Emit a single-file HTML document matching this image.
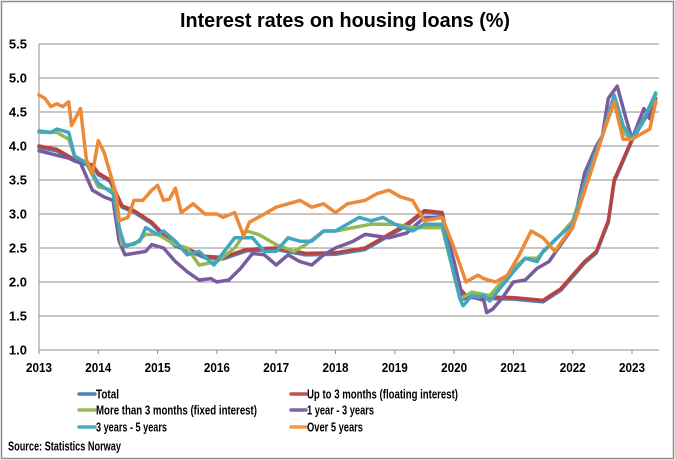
<!DOCTYPE html>
<html><head><meta charset="utf-8"><style>
html,body{margin:0;padding:0;background:#fff}
svg{display:block;font-family:"Liberation Sans",sans-serif;font-weight:bold}
</style></head><body>
<svg id="c" width="675" height="460" xmlns="http://www.w3.org/2000/svg">
<rect x="1.5" y="1.5" width="672" height="457" fill="#fff" stroke="#8c8c8c" stroke-width="1.5"/>
<text x="345" y="27" text-anchor="middle" font-size="20" textLength="330" lengthAdjust="spacingAndGlyphs">Interest rates on housing loans (%)</text>
<g id="grid" stroke="#8c8c8c" stroke-width="1"></g>
<g id="lab" font-size="13" fill="#000"></g>
<g id="ser" fill="none" stroke-width="3.5" stroke-linejoin="round" stroke-linecap="round"></g>
<g font-size="13">
<line x1="79" y1="394" x2="95" y2="394" stroke="#4f81bd" stroke-width="3.5" stroke-linecap="round"/>
<text x="96" y="398.5" textLength="23" lengthAdjust="spacingAndGlyphs">Total</text>
<line x1="291" y1="394" x2="306" y2="394" stroke="#c0504d" stroke-width="3.5" stroke-linecap="round"/>
<text x="307" y="398.5" textLength="151" lengthAdjust="spacingAndGlyphs">Up to 3 months (floating interest)</text>
<line x1="79" y1="410" x2="95" y2="410" stroke="#9bbb59" stroke-width="3.5" stroke-linecap="round"/>
<text x="96" y="414.5" textLength="161" lengthAdjust="spacingAndGlyphs">More than 3 months (fixed interest)</text>
<line x1="291" y1="410" x2="306" y2="410" stroke="#8064a2" stroke-width="3.5" stroke-linecap="round"/>
<text x="307" y="414.5" textLength="67" lengthAdjust="spacingAndGlyphs">1 year - 3 years</text>
<line x1="79" y1="427" x2="95" y2="427" stroke="#4bacc6" stroke-width="3.5" stroke-linecap="round"/>
<text x="96" y="431.5" textLength="71" lengthAdjust="spacingAndGlyphs">3 years - 5 years</text>
<line x1="291" y1="427" x2="306" y2="427" stroke="#f79646" stroke-width="3.5" stroke-linecap="round"/>
<text x="307" y="431.5" textLength="56" lengthAdjust="spacingAndGlyphs">Over 5 years</text>
<text x="8" y="450.5" textLength="113" lengthAdjust="spacingAndGlyphs">Source: Statistics Norway</text>
</g>
</svg>
<script>
const NS="http://www.w3.org/2000/svg";
const X0=39,PX=59.3,L=39,R=659;
const X=t=>X0+(t-2013)*PX, Y=v=>44+(5.5-v)*68;
const g=document.getElementById('grid'),lab=document.getElementById('lab'),ser=document.getElementById('ser');
function el(p,tag,a,txt){const e=document.createElementNS(NS,tag);for(const k in a)e.setAttribute(k,a[k]);if(txt)e.textContent=txt;p.appendChild(e);return e;}
for(let i=0;i<=9;i++){const v=1+i*0.5,y=Y(v);
 el(g,'line',{x1:L,x2:R,y1:y,y2:y});
 el(lab,'text',{x:27,y:y+4.5,'text-anchor':'end'},v.toFixed(1));}
el(g,'line',{x1:L,x2:L,y1:44,y2:354});
for(let yr=2013;yr<=2023;yr++){const x=X(yr);el(g,'line',{x1:x,x2:x,y1:350,y2:354});
 el(lab,'text',{x:x,y:372,'text-anchor':'middle',textLength:26,lengthAdjust:'spacingAndGlyphs'},String(yr));}
const red=[2013,4,2013.3,3.95,2013.6,3.8,2013.9,3.72,2014,3.6,2014.2,3.5,2014.4,3.12,2014.6,3.05,2014.9,2.88,2015.1,2.7,2015.3,2.55,2015.6,2.45,2015.8,2.38,2016.1,2.36,2016.5,2.48,2017,2.5,2017.5,2.42,2018,2.43,2018.5,2.5,2018.9,2.7,2019.2,2.85,2019.5,3.05,2019.8,3.02,2019.9,2.6,2020.1,1.9,2020.2,1.8,2020.5,1.78,2021,1.77,2021.5,1.73,2021.8,1.9,2022,2.1,2022.2,2.3,2022.4,2.45,2022.6,2.9,2022.7,3.5,2022.9,3.9,2023,4.1,2023.2,4.4,2023.4,4.65];
const purple=[2013,3.93,2013.5,3.82,2013.7,3.75,2013.9,3.35,2014.1,3.25,2014.25,3.2,2014.35,2.6,2014.45,2.4,2014.8,2.45,2014.9,2.55,2015.1,2.5,2015.3,2.3,2015.5,2.15,2015.7,2.03,2015.9,2.05,2016,2,2016.2,2.03,2016.4,2.2,2016.6,2.42,2016.8,2.4,2017,2.25,2017.2,2.4,2017.4,2.3,2017.6,2.25,2017.8,2.4,2018,2.5,2018.3,2.6,2018.5,2.7,2018.9,2.65,2019.2,2.72,2019.5,2.95,2019.8,2.95,2020,2.3,2020.15,1.75,2020.3,1.78,2020.5,1.73,2020.55,1.55,2020.65,1.6,2020.8,1.75,2021,2,2021.2,2.03,2021.4,2.2,2021.6,2.3,2021.8,2.55,2022,2.8,2022.2,3.6,2022.4,4,2022.5,4.15,2022.6,4.7,2022.75,4.88,2022.9,4.4,2023,4.1,2023.2,4.55,2023.3,4.4,2023.4,4.7];
const green=[2013,4.2,2013.3,4.2,2013.5,4.1,2013.6,3.85,2013.8,3.75,2014,3.4,2014.25,3.35,2014.4,2.55,2014.6,2.55,2014.8,2.7,2015,2.7,2015.3,2.55,2015.5,2.5,2015.7,2.25,2016,2.3,2016.3,2.5,2016.5,2.75,2016.7,2.7,2017,2.55,2017.3,2.45,2017.5,2.55,2017.8,2.75,2018,2.75,2018.3,2.8,2018.6,2.85,2019,2.85,2019.3,2.8,2019.5,2.8,2019.8,2.8,2020.1,1.75,2020.3,1.85,2020.6,1.8,2021,2.2,2021.2,2.35,2021.4,2.35,2021.8,2.7,2022,2.9,2022.3,3.7,2022.5,4.15,2022.7,4.75,2022.85,4.2,2023,4.1,2023.2,4.4,2023.4,4.75];
const teal=[2013,4.22,2013.2,4.2,2013.3,4.25,2013.5,4.2,2013.6,3.85,2013.8,3.75,2014,3.45,2014.25,3.3,2014.35,2.8,2014.45,2.52,2014.7,2.6,2014.8,2.8,2015,2.7,2015.1,2.75,2015.3,2.6,2015.5,2.4,2015.7,2.45,2015.95,2.25,2016.3,2.65,2016.6,2.65,2016.8,2.45,2017,2.45,2017.2,2.65,2017.4,2.6,2017.6,2.6,2017.8,2.75,2018,2.75,2018.4,2.95,2018.6,2.9,2018.8,2.95,2019,2.85,2019.3,2.75,2019.5,2.85,2019.8,2.85,2020.1,1.75,2020.15,1.65,2020.3,1.8,2020.4,1.78,2020.5,1.8,2020.6,1.72,2021,2.15,2021.2,2.35,2021.4,2.3,2021.5,2.45,2021.8,2.7,2022,2.85,2022.3,3.7,2022.5,4.15,2022.7,4.75,2022.85,4.3,2023,4.1,2023.2,4.4,2023.4,4.78];
const orange=[2013,4.75,2013.1,4.7,2013.2,4.58,2013.3,4.62,2013.4,4.58,2013.5,4.65,2013.55,4.3,2013.7,4.55,2013.8,3.8,2013.9,3.6,2014,4.08,2014.1,3.9,2014.3,3.3,2014.35,2.9,2014.5,2.95,2014.6,3.2,2014.75,3.2,2014.9,3.35,2015,3.42,2015.1,3.2,2015.2,3.22,2015.3,3.38,2015.4,3.02,2015.6,3.15,2015.8,3,2016,3,2016.1,2.95,2016.3,3.02,2016.45,2.68,2016.55,2.88,2016.8,3,2017,3.1,2017.2,3.15,2017.4,3.2,2017.6,3.1,2017.8,3.15,2018,3.02,2018.2,3.15,2018.5,3.2,2018.7,3.3,2018.9,3.35,2019.1,3.25,2019.3,3.2,2019.5,2.9,2019.8,2.95,2020,2.5,2020.2,2,2020.4,2.1,2020.5,2.05,2020.7,2,2020.9,2.1,2021.1,2.4,2021.3,2.75,2021.5,2.65,2021.7,2.45,2021.9,2.7,2022,2.8,2022.3,3.6,2022.5,4.15,2022.7,4.65,2022.85,4.1,2023,4.1,2023.2,4.2,2023.3,4.25,2023.4,4.65];
function pl(d,c,dy){let p=[];for(let i=0;i<d.length;i+=2)p.push(X(d[i]).toFixed(1)+','+(Y(d[i+1])+(dy||0)).toFixed(1));el(ser,'polyline',{points:p.join(' '),stroke:c});}
pl(red,'#4f81bd',1.5);pl(red,'#b8443f');pl(purple,'#7a5c9e');pl(green,'#94b854');pl(teal,'#42a6c2');pl(orange,'#ec8a38');
</script>
</body></html>
